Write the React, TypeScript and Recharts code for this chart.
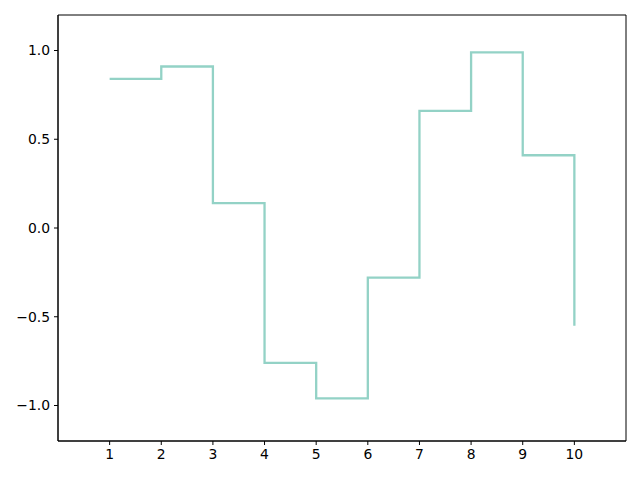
import React from 'react';
import {
  LineChart,
  Line,
  XAxis,
  YAxis,
  ReferenceArea,
} from 'recharts';

const xValues = [1, 2, 3, 4, 5, 6, 7, 8, 9, 10];
const yValues = [0.84, 0.91, 0.14, -0.76, -0.96, -0.28, 0.66, 0.99, 0.41, -0.55];
const xTicks = [1, 2, 3, 4, 5, 6, 7, 8, 9, 10];
const yTicks = [-1.0, -0.5, 0.0, 0.5, 1.0];

const data = xValues.map((x, i) => ({ x, y: yValues[i] }));

const fmtY = (v: number) => v.toFixed(1).replace('-', '\u2212');

const tickStyle = { fontSize: 13.9, fill: '#000', fontFamily: 'DejaVu Sans' };

export default function App() {
  return (
    <div style={{ position: 'absolute', left: 0, top: 0, width: 640, height: 480, background: '#fff' }}>
      <LineChart
        width={640}
        height={480}
        data={data}
        margin={{ top: 15, right: 14, left: 0, bottom: 0 }}
      >
        <XAxis
          dataKey="x"
          type="number"
          domain={[0, 11]}
          ticks={xTicks}
          allowDataOverflow
          height={39}
          tickSize={4}
          tickMargin={4}
          axisLine={{ stroke: '#000' }}
          tickLine={{ stroke: '#000' }}
          tick={tickStyle}
        />
        <YAxis
          type="number"
          domain={[-1.2, 1.2]}
          ticks={yTicks}
          allowDataOverflow
          width={58}
          tickSize={4}
          tickMargin={4}
          tickFormatter={fmtY}
          axisLine={{ stroke: '#000' }}
          tickLine={{ stroke: '#000' }}
          tick={tickStyle}
        />
        <ReferenceArea
          x1={0}
          x2={11}
          y1={-1.2}
          y2={1.2}
          fill="none"
          stroke="#000"
          strokeWidth={1}
          strokeOpacity={1}
        />
        <Line
          type="stepAfter"
          dataKey="y"
          stroke="#93d2c6"
          strokeWidth={2.3}
          dot={false}
          isAnimationActive={false}
        />
      </LineChart>
    </div>
  );
}
